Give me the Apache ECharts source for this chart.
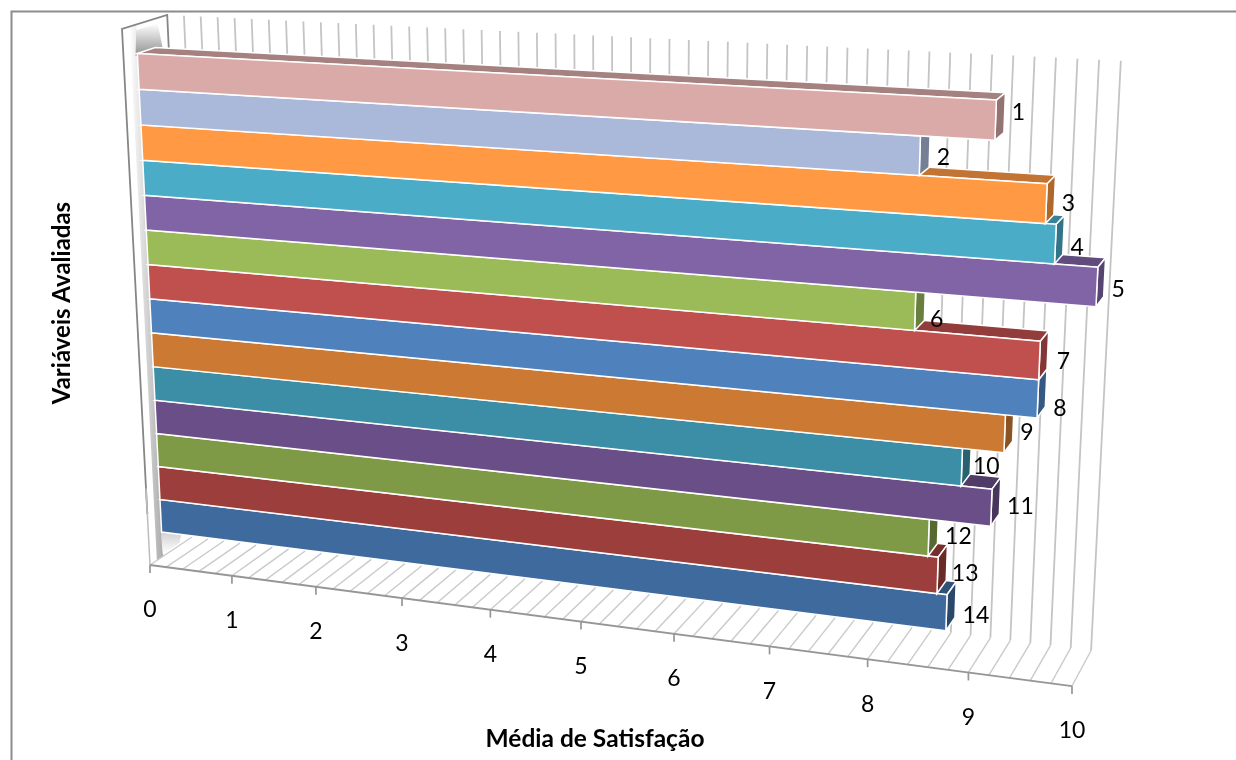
<!DOCTYPE html>
<html><head><meta charset="utf-8">
<style>html,body{margin:0;padding:0;background:#fff}#c{width:1236px;height:760px}</style>
<script src="https://cdn.jsdelivr.net/npm/echarts@6/dist/echarts.min.js"></script>
</head><body><div id="c"></div>
<script>
const categories = ['1','2','3','4','5','6','7','8','9','10','11','12','13','14'];
const satisfaction = [9.0,8.3,9.5,9.6,10.0,8.3,9.5,9.5,9.2,8.8,9.1,8.5,8.6,8.7];
const barColors = ['#D9AAA8','#AAB9D9','#FF9944','#4BACC8','#8064A5','#9BBB59','#C0504D','#4F81BD','#CC7A33','#3B8EA5','#6A4E87','#7F9A46','#9C3E3B','#3F6A9E'];
const tickLabels = ['0','1','2','3','4','5','6','7','8','9','10'];
const xTitle = 'Média de Satisfação';
const yTitle = 'Variáveis Avaliadas';

/* projective camera: world (v, Y, Z) -> page pixels */
const CAM = {
  o:[150,565,1], x:[79.1,3.72,-0.01222], y:[-34.7,-537.6,-0.055], z:[47.4,-12.9,0.0281]
};
function proj(v,Y,Z){
  const h=[0,1,2].map(k=>CAM.o[k]+v*CAM.x[k]+Y*CAM.y[k]+Z*CAM.z[k]);
  return [h[0]/h[2],h[1]/h[2]];
}
const Zf=0.30, Zb=0.70;
/* label placement tweaks, in pixels, the way the source chart's renderer scattered them */
const labelDx=[0,0,0,0,0,-2,2,0,0,-5,0,0,-2,0];
const labelDy=[-12,-2,-3,1,0,6,0,9,-2,-1,-1,-1,-1,4];
const darken=(c,f)=>'#'+[1,3,5].map(i=>Math.round(parseInt(c.substr(i,2),16)*f).toString(16).padStart(2,'0')).join('');
const poly=(pts,fill,stroke,lw)=>({type:'polygon',shape:{points:pts},style:{fill:fill,stroke:stroke||null,lineWidth:lw||0}});
const line=(a,b,col,lw)=>({type:'line',shape:{x1:a[0],y1:a[1],x2:b[0],y2:b[1]},style:{stroke:col,lineWidth:lw,fill:null}});
const grad=(x,y,x2,y2,a,b)=>new echarts.graphic.LinearGradient(x,y,x2,y2,[{offset:0,color:a},{offset:1,color:b}]);

function renderWalls(params,api){
  const kids=[];
  /* left wall */
  kids.push(poly([proj(0,0,0),proj(0,1,0),proj(0,1,1),proj(0,0,1)],'#ffffff'));
  kids.push(poly([proj(0,0,0.16),proj(0,1,0.16),proj(0,1,0.31),proj(0,0,0.31)],grad(0,0,1,0,'#ffffff','#aaaaaa')));
  kids.push(poly([proj(0,0.945,0.26),proj(0,0.99,0.3),proj(0,0.99,0.78),proj(0,0.945,0.86)],grad(0,0,0,1,'#ffffff','#8f8f8f')));
  kids.push(poly([proj(0,0.005,0.3),proj(0,0.055,0.28),proj(0,0.055,0.9),proj(0,0.005,0.7)],grad(0,0,0,1,'#a8a8a8','#ffffff')));
  kids.push({type:'polyline',shape:{points:[proj(0,0.1,0),proj(0,1,0),proj(0,1,1),proj(0,0.9,1)]},style:{stroke:'#868686',lineWidth:1.8,fill:null}});
  kids.push(line(proj(0,0,0),proj(0,0.15,0),'#bdbdbd',1.5));
  /* grid on floor and back wall, one step each fifth of a unit */
  for(let n=0;n<=50;n++){
    const v=n/5;
    kids.push(line(proj(v,0,0),proj(v,0,1),'#cacaca',1.4));
    if(n>0) kids.push(line(proj(v,0,1),proj(v,1,1),'#c4c4c4',1.8));
  }
  /* value axis */
  kids.push(line(proj(0,0,0),proj(10,0,0),'#969696',1.8));
  tickLabels.forEach(t=>{
    const p=proj(+t,0,0);
    kids.push(line(p,[p[0],p[1]+8],'#969696',1.7));
    kids.push({type:'text',style:{x:p[0],y:p[1]+45,text:t,fill:'#000',font:'23px Lato',align:'center',verticalAlign:'middle'}});
  });
  return {type:'group',children:kids};
}

function renderBar(params,api){
  const i=api.value(2);
  const c=api.coord([api.value(0),api.value(1)]);
  const band=api.size([0,1])[1];
  const W=api.getWidth(),H=api.getHeight();
  const v=c[0]/W*10;
  const yc=1-c[1]/H, hy=band/H/2;
  const Y0=yc-hy, Y1=yc+hy;
  const col=barColors[i];
  const top=darken(col,0.76), side=darken(col,0.68), sw='#ffffff';
  const kids=[
    poly([proj(0,Y1,Zf),proj(0,Y1,Zb),proj(v,Y1,Zb),proj(v,Y1,Zf)],top,sw,1.5),
    poly([proj(v,Y0,Zf),proj(v,Y1,Zf),proj(v,Y1,Zb),proj(v,Y0,Zb)],side,sw,1.5),
    poly([proj(0,Y0,Zf),proj(0,Y1,Zf),proj(v,Y1,Zf),proj(v,Y0,Zf)],col,sw,1.5)
  ];
  return {type:'group',children:kids};
}
function renderLabel(params,api){
  const i=api.value(2);
  const c=api.coord([api.value(0),api.value(1)]);
  const W=api.getWidth(),H=api.getHeight();
  const p=proj(c[0]/W*10,1-c[1]/H,Zb);
  return {type:'text',style:{x:p[0]+7+labelDx[i],y:p[1]+12+labelDy[i],text:categories[i],fill:'#000',font:'23px Lato',align:'left',verticalAlign:'middle'}};
}
const rows=categories.map((n,i)=>[satisfaction[i],n,i]).reverse();

const chart=echarts.init(document.getElementById('c'),null,{renderer:'canvas'});
chart.setOption({
  animation:false,
  backgroundColor:'#ffffff',
  grid:{left:0,right:0,top:'5.15%',bottom:'4.85%'},
  xAxis:{type:'value',min:0,max:10,show:false},
  yAxis:{type:'category',data:categories,inverse:true,show:false},
  graphic:[
    {type:'polyline',z:0,shape:{points:[[11.5,770],[11.5,11.5],[1250,11.5]]},style:{stroke:'#8c8c8c',lineWidth:2,fill:null}},
    {type:'text',z:50,style:{x:595,y:739,text:xTitle,fill:'#000',font:'bold 24.5px Lato',align:'center',verticalAlign:'middle'}},
    {type:'text',z:50,x:62,y:303,rotation:Math.PI/2,style:{x:0,y:0,text:yTitle,fill:'#000',font:'bold 24px Lato',align:'center',verticalAlign:'middle'}}
  ],
  series:[
    {type:'custom',z:1,silent:true,data:[[0,'1',0]],encode:{x:0,y:1},renderItem:renderWalls,clip:false},
    {type:'custom',z:2,silent:true,data:rows,encode:{x:0,y:1},renderItem:renderBar,clip:false},
    {type:'custom',z:3,silent:true,data:rows,encode:{x:0,y:1},renderItem:renderLabel,clip:false}
  ]
});
</script></body></html>
